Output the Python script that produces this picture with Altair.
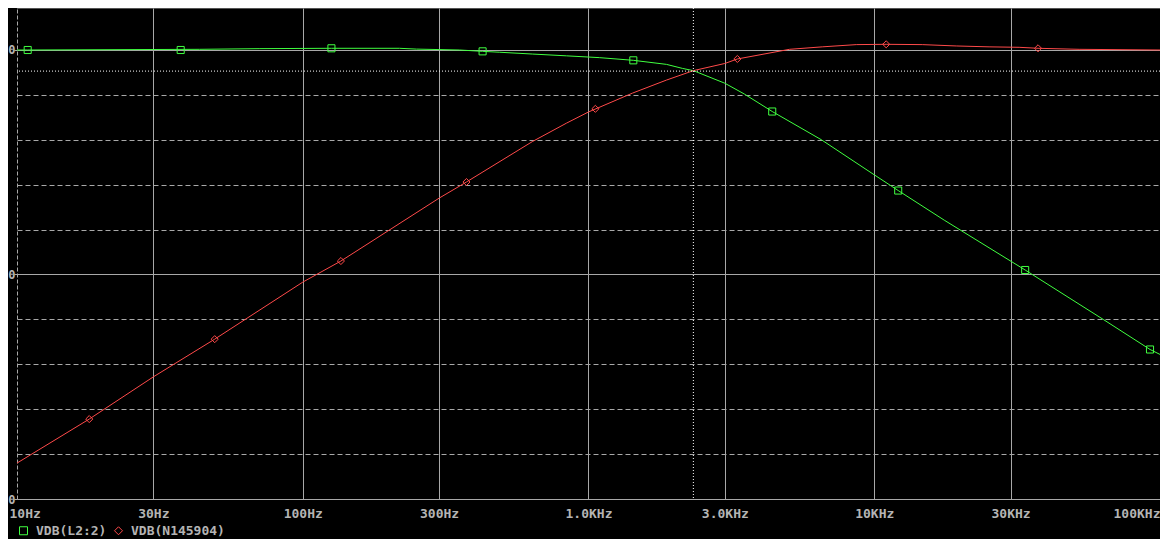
import altair as alt
import pandas as pd

# ---------------- data ----------------
SERIES = ["VDB(L2:2)", "VDB(N145904)"]

green_freq = [10, 10.9, 43.6, 70.8, 126, 218, 250, 354, 426, 489, 636, 837, 1091,
              1435, 1874, 2133, 2328, 3000, 3510, 4395, 6535, 10000, 12130, 17580,
              33740, 63640, 92270, 100000]
green_db = [0.0, 0.0, 0.15, 0.3, 0.38, 0.38, 0.2, 0.0, -0.3, -0.5, -0.9, -1.3, -1.7,
            -2.3, -3.2, -4.1, -4.6, -7.4, -9.8, -13.7, -20.0, -27.8, -31.3, -37.9,
            -49.0, -60.1, -66.7, -67.8]

red_freq = [10, 17.9, 30, 49.2, 100, 136, 300, 374, 636, 837, 1000, 1426, 1874, 2328,
            3000, 3319, 5050, 6577, 8650, 11010, 14720, 19360, 25220, 32140, 37430,
            52100, 100000]
red_db = [-92.0, -82.2, -72.8, -64.4, -51.7, -47.0, -33.0, -29.4, -20.4, -16.3, -13.8,
          -9.6, -6.7, -4.6, -3.0, -2.0, 0.15, 0.7, 1.2, 1.27, 1.2, 0.9, 0.7, 0.6, 0.38,
          0.15, 0.0]

green_mark_freq = [10.9, 37.4, 126, 426, 1435, 4395, 12130, 33740, 92270]
green_mark_db = [0.0, 0.0, 0.38, -0.3, -2.3, -13.7, -31.3, -49.0, -66.7]
red_mark_freq = [17.9, 49.2, 136, 374, 1057, 3319, 11010, 37430]
red_mark_db = [-82.2, -64.4, -47.0, -29.4, -13.1, -2.0, 1.27, 0.38]

x_tick_values = [10, 30, 100, 300, 1000, 3000, 10000, 30000, 100000]
x_tick_labels = ["10Hz", "30Hz", "100Hz", "300Hz", "1.0KHz", "3.0KHz", "10KHz", "30KHz", "100KHz"]
y_tick_values = [-100, -90, -80, -70, -60, -50, -40, -30, -20, -10, 0]

CURSOR_FREQ = 2328
CURSOR_DB = -4.7
Y_TOP = 9.354

# ---------------- styling ----------------
COLORS = ["#40ff40", "#ff4a4a"]
SHAPES = ["square", "diamond"]
GRID = "#a8a8a8"
TEXT = "#b4b4b4"
FONT = "DejaVu Sans Mono"

lines_df = pd.concat([
    pd.DataFrame({"freq": green_freq, "db": green_db, "series": SERIES[0]}),
    pd.DataFrame({"freq": red_freq, "db": red_db, "series": SERIES[1]}),
])
marks_df = pd.concat([
    pd.DataFrame({"freq": green_mark_freq, "db": green_mark_db, "series": SERIES[0]}),
    pd.DataFrame({"freq": red_mark_freq, "db": red_mark_db, "series": SERIES[1]}),
])

label_expr = " : ".join(
    f"datum.value == {v} ? '{l}'" for v, l in zip(x_tick_values, x_tick_labels)
) + " : ''"

x_scale = alt.Scale(type="log", domain=[10, 100000], nice=False)
y_scale = alt.Scale(domain=[-100, Y_TOP], nice=False, zero=False)
color_scale = alt.Scale(domain=SERIES, range=COLORS)
shape_scale = alt.Scale(domain=SERIES, range=SHAPES)

x_axis = alt.Axis(
    values=x_tick_values, labelExpr=label_expr, title=None,
    grid=True, gridColor=GRID, gridWidth=1,
    gridOpacity={"condition": {"test": "datum.value <= 10", "value": 0}, "value": 1},
    tickSize=0, labelPadding=8, domainColor=GRID, domainWidth=1,
    labelFont=FONT, labelFontSize=13, labelFontWeight="bold", labelColor=TEXT,
    labelAlign={"condition": [{"test": "datum.value <= 10", "value": "left"},
                              {"test": "datum.value >= 100000", "value": "right"}],
                "value": "center"},
    labelOffset={"condition": {"test": "datum.value <= 10", "value": -8}, "value": 0},
    labelOverlap=False,
)
y_axis = alt.Axis(
    values=y_tick_values, title=None,
    labelExpr="datum.value % 50 === 0 ? datum.label : ''",
    grid=True, gridColor=GRID, gridWidth=1,
    gridDash={"condition": {"test": "datum.value % 50 === 0", "value": []}, "value": [5, 3]},
    tickSize=3, tickColor=GRID,
    tickOpacity={"condition": {"test": "datum.value % 50 === 0", "value": 1}, "value": 0},
    labelPadding=-1, domainColor=GRID, domainDash=[4, 2],
    labelFont=FONT, labelFontSize=12, labelFontWeight="bold", labelColor=TEXT,
    labelOverlap=False,
)

base_x = alt.X("freq:Q", scale=x_scale, axis=x_axis)
base_y = alt.Y("db:Q", scale=y_scale, axis=y_axis)

legend = alt.Legend(orient="bottom", offset=4, direction="horizontal", title=None,
                    labelFont=FONT, labelFontSize=13,
                    labelFontWeight="bold", labelColor=TEXT,
                    symbolSize=64, symbolStrokeWidth=1,
                    labelOffset=6, columnPadding=5)

lines = alt.Chart(lines_df).mark_line(strokeWidth=1, clip=True).encode(
    x=base_x, y=base_y,
    color=alt.Color("series:N", scale=color_scale, legend=legend),
    detail="series:N",
)

points = alt.Chart(marks_df).mark_point(filled=False, size=50, strokeWidth=1, opacity=1).encode(
    x=base_x, y=base_y,
    color=alt.Color("series:N", scale=color_scale, legend=legend),
    shape=alt.Shape("series:N", scale=shape_scale, legend=legend),
)

top_frame = alt.Chart().mark_rule(color=GRID, strokeWidth=1).encode(
    y=alt.datum(Y_TOP)
)
cursor_v = alt.Chart().mark_rule(color="white", strokeWidth=1, strokeDash=[1, 2]).encode(
    x=alt.datum(CURSOR_FREQ)
)
cursor_h = alt.Chart().mark_rule(color="white", strokeWidth=1, strokeDash=[1, 2]).encode(
    y=alt.datum(CURSOR_DB)
)

chart = alt.layer(points, lines, top_frame, cursor_v, cursor_h).properties(
    width=1143, height=491,
    padding={"left": 9, "top": 0, "right": 0, "bottom": 40},
    autosize=alt.AutoSizeParams(type="none"),
    background="black",
).configure_view(strokeWidth=0)

chart.save("out.html", embed_options={"renderer": "svg", "actions": False})
